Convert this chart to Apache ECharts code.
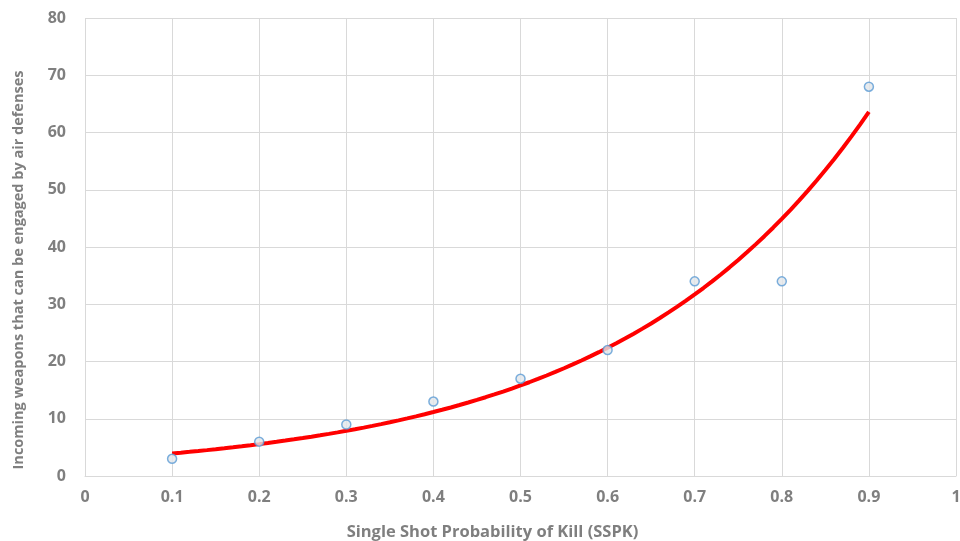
<!DOCTYPE html>
<html><head><meta charset="utf-8">
<script src="https://cdn.jsdelivr.net/npm/echarts@6/dist/echarts.min.js"></script>
<style>html,body{margin:0;padding:0;background:#fff}#c{width:960px;height:541px}</style>
</head><body><div id="c"></div>
<script>
const sspk = [0.1, 0.2, 0.3, 0.4, 0.5, 0.6, 0.7, 0.8, 0.9];
const weapons = [3, 6, 9, 13, 17, 22, 34, 34, 68];
const xTitle = 'Single Shot Probability of Kill (SSPK)';
const yTitle = 'Incoming weapons that can be engaged by air defenses';

// Exponential least-squares trendline (as Excel computes it) from the data
const n = sspk.length;
const mx = sspk.reduce((a, b) => a + b, 0) / n;
const ly = weapons.map(Math.log);
const my = ly.reduce((a, b) => a + b, 0) / n;
let sxx = 0, sxy = 0;
for (let i = 0; i < n; i++) { sxx += (sspk[i] - mx) ** 2; sxy += (sspk[i] - mx) * (ly[i] - my); }
const b = sxy / sxx, a = Math.exp(my - b * mx);
const trend = [];
const steps = 80;
for (let i = 0; i <= steps; i++) {
  const x = sspk[0] + (sspk[n - 1] - sspk[0]) * i / steps;
  trend.push([x, a * Math.exp(b * x)]);
}

const chart = echarts.init(document.getElementById('c'));
const lbl = { color: '#7f7f7f', fontSize: 16, fontWeight: 'bold', fontFamily: 'Open Sans' };
chart.setOption({
  animation: false,
  grid: { left: 85, right: 4, top: 18, bottom: 65, containLabel: false, outerBoundsMode: 'none' },
  xAxis: {
    type: 'value', min: 0, max: 1, interval: 0.1,
    axisLine: { show: true, lineStyle: { color: '#d9d9d9', width: 1 } },
    axisTick: { show: false },
    splitLine: { show: true, lineStyle: { color: '#d9d9d9' } },
    axisLabel: Object.assign({ margin: 13, formatter: v => +v.toFixed(1) + '' }, lbl),
    name: xTitle, nameLocation: 'middle', nameGap: 48,
    nameTextStyle: { color: '#7f7f7f', fontSize: 16.5, fontWeight: 'bold', fontFamily: 'Open Sans', padding: [0, 56, 0, 0] }
  },
  yAxis: {
    type: 'value', min: 0, max: 80, interval: 10,
    axisLine: { show: false },
    axisTick: { show: false },
    splitLine: { show: true, lineStyle: { color: '#d9d9d9' } },
    axisLabel: Object.assign({ margin: 19 }, lbl),
    name: yTitle, nameLocation: 'middle', nameGap: 59,
    nameTextStyle: { color: '#7f7f7f', fontSize: 14.5, fontWeight: 'bold', fontFamily: 'Open Sans', padding: [0, 46, 0, 0] }
  },
  series: [
    {
      type: 'line', data: trend, showSymbol: false, smooth: false,
      lineStyle: { color: '#ff0000', width: 4 }, z: 2
    },
    {
      type: 'scatter', data: sspk.map((x, i) => [x, weapons[i]]),
      symbol: 'circle', symbolSize: 9,
      itemStyle: { color: '#e2e6ea', borderColor: '#5b9bd5', borderWidth: 1.5 }, z: 3
    }
  ]
});
</script></body></html>
